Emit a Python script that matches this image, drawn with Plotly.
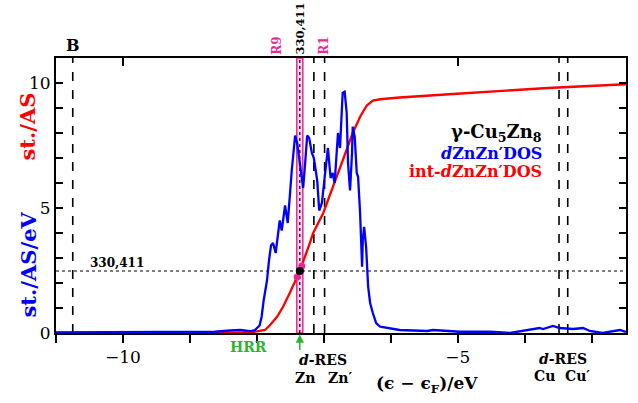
import plotly.graph_objects as go

# Blue: dZnZn'DOS (st./AS/eV)
dos_e = [-11.00, -10.34, -9.60, -8.85, -8.63, -8.40, -8.25, -8.10, -8.03, -7.96, -7.93, -7.90, -7.85,
         -7.82, -7.79, -7.76, -7.72, -7.66, -7.63, -7.58, -7.54, -7.48, -7.43, -7.40, -7.37, -7.34,
         -7.31, -7.28, -7.25, -7.22, -7.18, -7.15, -7.10, -7.07, -7.03, -6.99, -6.94, -6.90, -6.87,
         -6.84, -6.79, -6.76, -6.72, -6.69, -6.66, -6.64, -6.61, -6.58, -6.57, -6.54, -6.51, -6.49,
         -6.46, -6.43, -6.42, -6.40, -6.37, -6.34, -6.31, -6.27, -6.22, -6.16, -6.04, -5.87, -5.46,
         -5.37, -4.97, -4.52, -4.22, -4.03, -3.88, -3.78, -3.73, -3.58, -3.48, -3.28, -3.13, -3.03,
         -2.84, -2.69, -2.58, -2.49]
dos_v = [0.02, 0.02, 0.02, 0.03, 0.05, 0.10, 0.12, 0.07, 0.12, 0.30, 0.65, 1.30, 2.10,
         2.90, 3.50, 3.60, 3.20, 4.50, 4.10, 5.10, 4.40, 6.50, 7.90, 7.60, 7.00, 6.60,
         5.80, 6.80, 7.90, 7.80, 7.20, 7.00, 6.10, 4.90, 5.20, 6.20, 7.40, 6.20, 6.40,
         6.00, 8.00, 7.40, 9.60, 9.65, 8.80, 6.80, 5.70, 7.20, 8.25, 7.85, 6.40, 6.25,
         4.80, 2.65, 3.70, 4.25, 3.45, 1.85, 1.20, 0.80, 0.40, 0.25, 0.20, 0.12, 0.08,
         0.12, 0.05, 0.05, 0.00, 0.08, 0.15, 0.20, 0.16, 0.28, 0.20, 0.16, 0.20, 0.08,
         0.00, 0.08, 0.12, 0.04]

# Red: int-dZnZn'DOS (st./AS)
int_e = [-11.0, -8.85, -8.40, -8.10, -7.88, -7.81, -7.70, -7.61, -7.51, -7.40, -7.36,
         -7.21, -7.16, -7.01, -6.87, -6.72, -6.57, -6.46, -6.36, -6.27, -6.16, -5.87, -5.13,
         -4.40, -3.66, -2.49]
int_v = [0.0, 0.0, 0.01, 0.02, 0.12, 0.30, 0.65, 1.05, 1.60, 2.25, 2.48,
         3.60, 4.00, 4.80, 5.85, 6.90, 8.00, 8.65, 9.10, 9.30, 9.35, 9.42, 9.55,
         9.68, 9.80, 9.95]

x_ticks = [-11, -10, -9, -8, -7, -6, -5, -4, -3]
x_ticktext = ["", "−10", "", "", "", "", "−5", "", ""]
y_ticks = list(range(0, 12))
y_ticktext = ["0", "", "", "", "", "5", "", "", "", "", "10", ""]

dashed_lines = [-10.75, -7.15, -6.99, -3.49, -3.36]
band = [-7.405, -7.315]
hrr_e = -7.36
level = 2.48

XR = [-11, -2.49]
YR = [0, 11]
FONT = "DejaVu Serif"
MAG = "#e8289a"
GREEN = "#2db52d"

def px(x):
    return (x - XR[0]) / (XR[1] - XR[0])

def py(y):
    return (y - YR[0]) / (YR[1] - YR[0])

fig = go.Figure()
fig.add_trace(go.Scatter(x=int_e, y=int_v, mode="lines", line=dict(color="#ff0000", width=2.3),
                         showlegend=False, hoverinfo="skip"))
fig.add_trace(go.Scatter(x=dos_e, y=dos_v, mode="lines", line=dict(color="#0000ff", width=2.3),
                         showlegend=False, hoverinfo="skip"))
fig.add_trace(go.Scatter(x=[-7.40, -7.33], y=[2.24, 2.68], mode="markers",
                         marker=dict(color=MAG, size=7), showlegend=False, hoverinfo="skip"))
fig.add_trace(go.Scatter(x=[hrr_e], y=[level], mode="markers",
                         marker=dict(color="black", size=8), showlegend=False, hoverinfo="skip"))

shapes = []
for xv in dashed_lines:
    shapes.append(dict(type="line", x0=xv, x1=xv, y0=0, y1=11, xref="x", yref="y",
                       line=dict(color="black", width=1.6, dash="dash"), layer="below"))
shapes.append(dict(type="rect", x0=band[0], x1=band[1], y0=0, y1=11, xref="x", yref="y",
                   fillcolor="rgba(255,160,210,0.45)", line=dict(color=MAG, width=1.5), layer="below"))
shapes.append(dict(type="line", x0=hrr_e, x1=hrr_e, y0=0, y1=11, xref="x", yref="y",
                   line=dict(color="black", width=1.2, dash="dot"), layer="below"))
shapes.append(dict(type="line", x0=XR[0], x1=XR[1], y0=level, y1=level, xref="x", yref="y",
                   line=dict(color="black", width=1.2, dash="dot"), layer="below"))

ann = []
def txt(x, y, t, color="black", size=15, angle=0, xa="center", ya="middle"):
    ann.append(dict(x=px(x), y=py(y), xref="paper", yref="paper", text=t, showarrow=False,
                    font=dict(family=FONT, size=size, color=color), textangle=angle,
                    xanchor=xa, yanchor=ya))

txt(-10.75, 11.52, "<b>B</b>", size=16)
txt(-7.70, 11.05, "<b>R9</b>", color=MAG, size=12, angle=-90, ya="bottom")
txt(-7.36, 11.05, "<b>330,411</b>", size=11.5, angle=-90, ya="bottom")
txt(-7.00, 11.05, "<b>R1</b>", color=MAG, size=12, angle=-90, ya="bottom")
txt(-10.09, 2.8, "<b>330,411</b>", size=12)
txt(-3.72, 8.0, "<b>γ-Cu<sub>5</sub>Zn<sub>8</sub></b>", size=18, xa="right")
txt(-3.72, 7.2, "<b><i>d</i>ZnZn′DOS</b>", color="#0000ff", size=16, xa="right")
txt(-3.72, 6.48, "<b>int-<i>d</i>ZnZn′DOS</b>", color="#ff0000", size=16, xa="right")
txt(-8.13, -0.56, "<b>HRR</b>", color=GREEN, size=14)
txt(-7.01, -1.08, "<b><i>d</i>-RES</b>", size=14)
txt(-7.28, -1.8, "<b>Zn</b>", size=14)
txt(-6.76, -1.8, "<b>Zn′</b>", size=14)
txt(-5.46, -2.04, "<b>(ϵ − ϵ<sub>F</sub>)/eV</b>", size=17)
txt(-3.43, -1.04, "<b><i>d</i>-RES</b>", size=14)
txt(-3.70, -1.72, "<b>Cu</b>", size=14)
txt(-3.21, -1.72, "<b>Cu′</b>", size=14)

ann.append(dict(x=px(hrr_e), y=py(-0.06), xref="paper", yref="paper", ax=0, ay=17,
                text="", showarrow=True, arrowhead=2, arrowsize=1.1, arrowwidth=1.5,
                arrowcolor=GREEN))
ann.append(dict(x=-0.05, y=(333 - 127) / 275, xref="paper", yref="paper", text="<b>st./AS</b>",
                xanchor="center", yanchor="middle",
                showarrow=False, textangle=-90, font=dict(family=FONT, size=21, color="#ff0000")))
ann.append(dict(x=-0.05, y=(333 - 265) / 275, xref="paper", yref="paper", text="<b>st./AS/eV</b>",
                xanchor="center", yanchor="middle",
                showarrow=False, textangle=-90, font=dict(family=FONT, size=21, color="#0000ff")))

fig.update_layout(
    width=638, height=403,
    margin=dict(l=56, r=12, t=58, b=70),
    paper_bgcolor="white", plot_bgcolor="white",
    shapes=shapes, annotations=ann,
    font=dict(family=FONT, size=16, color="black"),
    xaxis=dict(range=XR, tickmode="array", tickvals=x_ticks, ticktext=x_ticktext,
               ticks="outside", ticklen=8, tickwidth=2, tickcolor="black", automargin=False,
               showline=True, linecolor="black", linewidth=2, showgrid=False, zeroline=False,
               tickfont=dict(family=FONT, size=17)),
    xaxis2=dict(range=XR, overlaying="x", side="top", tickmode="array", automargin=False,
                tickvals=[-10, -5], showticklabels=False, ticks="inside", ticklen=8, tickwidth=2,
                tickcolor="black", showline=True, linecolor="black", linewidth=2,
                showgrid=False, zeroline=False),
    yaxis=dict(range=YR, tickmode="array", tickvals=y_ticks, ticktext=y_ticktext,
               ticks="inside", ticklen=7, tickwidth=2, tickcolor="black", mirror="ticks",
               automargin=False,
               showline=True, linecolor="black", linewidth=2, showgrid=False, zeroline=False,
               tickfont=dict(family=FONT, size=17)),
)
fig.add_trace(go.Scatter(x=[XR[0]], y=[0], xaxis="x2", mode="markers", marker=dict(opacity=0),
                         showlegend=False, hoverinfo="skip"))
fig.write_html("out.html", config={"displayModeBar": False},
               post_script="document.body.style.margin='0';")
